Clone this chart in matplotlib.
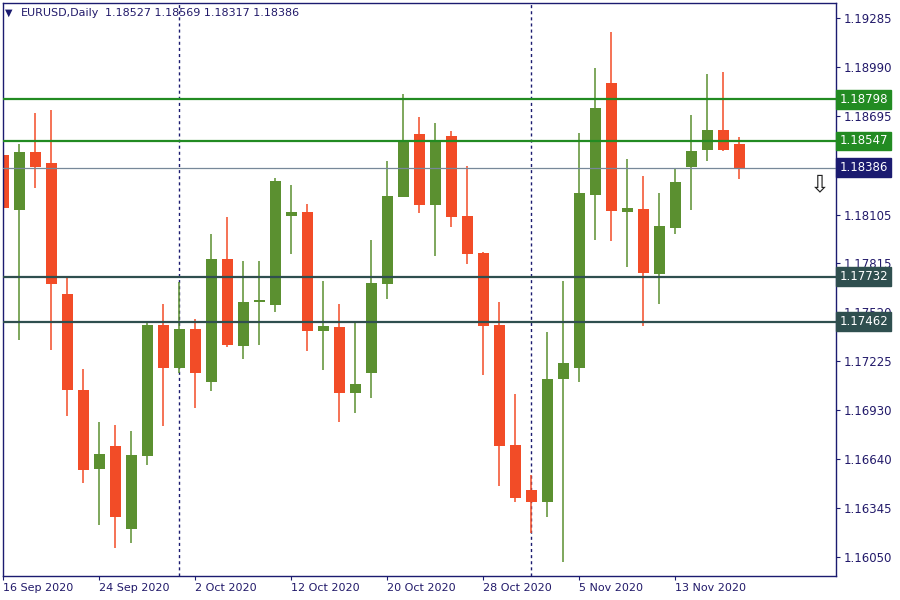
import matplotlib
matplotlib.use('Agg')
import matplotlib.pyplot as plt
import numpy as np
import pandas as pd

# EURUSD daily candles, 16 Sep - 19 Nov 2020
opens = [1.18462, 1.18134, 1.18480, 1.18414, 1.17628, 1.17052, 1.16580, 1.16716, 1.16220, 1.16658,
         1.17442, 1.17186, 1.17418, 1.17100, 1.17838, 1.17316, 1.17580, 1.17562, 1.18096, 1.18120,
         1.17406, 1.17430, 1.17034, 1.17154, 1.17688, 1.18210, 1.18588, 1.18162, 1.18576, 1.18096,
         1.17874, 1.17442, 1.16722, 1.16452, 1.16380, 1.17118, 1.17182, 1.18221, 1.18896, 1.18120,
         1.18138, 1.17748, 1.18026, 1.18390, 1.18492, 1.18610, 1.18527]
highs = [1.18828, 1.18528, 1.18716, 1.18732, 1.17726, 1.17178, 1.16860, 1.16842, 1.16806, 1.17466,
         1.17568, 1.17702, 1.17478, 1.17988, 1.18090, 1.17826, 1.17826, 1.18324, 1.18282, 1.18168,
         1.17706, 1.17568, 1.17460, 1.17952, 1.18426, 1.18828, 1.18690, 1.18654, 1.18606, 1.18396,
         1.17880, 1.17580, 1.17028, 1.16542, 1.17400, 1.17706, 1.18597, 1.18986, 1.19202, 1.18437,
         1.18334, 1.18234, 1.18381, 1.18700, 1.18948, 1.18960, 1.18569]
lows = [1.17872, 1.17354, 1.18266, 1.17294, 1.16898, 1.16496, 1.16244, 1.16106, 1.16136, 1.16604,
        1.16838, 1.17156, 1.16946, 1.17046, 1.17310, 1.17238, 1.17322, 1.17520, 1.17868, 1.17286,
        1.17172, 1.16860, 1.16914, 1.17004, 1.17598, 1.18210, 1.18114, 1.17856, 1.18030, 1.17808,
        1.17142, 1.16476, 1.16380, 1.16194, 1.16290, 1.16021, 1.17103, 1.17954, 1.17947, 1.17791,
        1.17438, 1.17571, 1.17990, 1.18133, 1.18426, 1.18486, 1.18317]
closes = [1.18146, 1.18480, 1.18390, 1.17690, 1.17054, 1.16574, 1.16668, 1.16292, 1.16662, 1.17442,
          1.17186, 1.17418, 1.17156, 1.17838, 1.17322, 1.17580, 1.17592, 1.18306, 1.18120, 1.17406,
          1.17436, 1.17034, 1.17088, 1.17694, 1.18216, 1.18552, 1.18162, 1.18546, 1.18090, 1.17868,
          1.17436, 1.16716, 1.16404, 1.16380, 1.17118, 1.17214, 1.18234, 1.18742, 1.18127, 1.18144,
          1.17757, 1.18035, 1.18298, 1.18484, 1.18610, 1.18492, 1.18386]
dates = pd.bdate_range('2020-09-16', periods=len(opens))

# horizontal levels drawn on the chart
levels = [1.18798, 1.18547, 1.17732, 1.17462]
level_colors = ['#228b22', '#228b22', '#2f4f4f', '#2f4f4f']
yticks = [1.19285, 1.18990, 1.18695, 1.18105, 1.17815, 1.17520, 1.17225,
          1.16930, 1.16640, 1.16345, 1.16050]
signal_price = 1.18289  # sell arrow

bull = '#5b9030'
bear = '#f24c27'
navy = '#1b1b70'
txt = '#221a6a'

o = np.array(opens); h = np.array(highs); l = np.array(lows); c = np.array(closes)
x = np.arange(len(o))
up = c >= o
colors = np.where(up, bull, bear)

fig = plt.figure(figsize=(9, 6), dpi=100)
ax = fig.add_axes([3/900, 24/600, 833/900, 573/600])

# month separators
for i in range(1, len(dates)):
    if dates[i].month != dates[i-1].month:
        ax.axvline(i, color=navy, lw=1, ls=(0, (2.2, 2.2)), zorder=0.5)

ax.vlines(x, l, h, colors=colors, lw=1.1, zorder=1)
body = np.abs(c - o)
body = np.maximum(body, 0.00008)
ax.bar(x, body, bottom=np.minimum(o, c), width=0.69, color=colors, lw=0, zorder=2)

for lv, col in zip(levels, level_colors):
    ax.axhline(lv, color=col, lw=1.6, zorder=3)
ax.axhline(closes[-1], color='#778899', lw=0.9, zorder=3)

ax.set_xlim(-0.02, 52.04)
ax.set_ylim(1.15936, 1.19375)

for sp in ax.spines.values():
    sp.set_color(navy)
    sp.set_linewidth(1)

ax.yaxis.tick_right()
ax.set_yticks(yticks, [f'{v:.5f}' for v in yticks])
ax.tick_params(axis='y', direction='out', length=3, width=0.8, color=navy,
               labelsize=8.5, labelcolor=txt, pad=2.5)

xt = x[::6]
ax.set_xticks(xt, [f'{d.day} {d:%b %Y}' for d in dates[::6]])
for lab in ax.get_xticklabels():
    lab.set_horizontalalignment('left')
ax.tick_params(axis='x', direction='out', length=3, width=0.8, color=navy,
               labelsize=8, labelcolor=txt, pad=2)

# price labels on the right axis
tr = ax.get_yaxis_transform()
for lv, col in zip(levels + [closes[-1]], level_colors + [navy]):
    ax.text(1.004, lv, f'{lv:.5f}', transform=tr, ha='left', va='center', fontsize=8.5,
            color='white', zorder=5, clip_on=False,
            bbox=dict(boxstyle='square,pad=0.25', fc=col, ec=col))

ax.text(51, signal_price, '\u21e9', ha='center', va='center', fontsize=17, color='#202020')

# header
last = ' '.join(f'{v:.5f}' for v in (opens[-1], highs[-1], lows[-1], closes[-1]))
fig.text(5/900, 1 - 13/600, '\u25bc', fontsize=7, color=navy, va='center')
fig.text(21/900, 1 - 13/600, 'EURUSD,Daily', fontsize=8, color=txt, va='center')
fig.text(105/900, 1 - 13/600, last, fontsize=8, color=txt, va='center')

fig.savefig('out.png', dpi=100)
